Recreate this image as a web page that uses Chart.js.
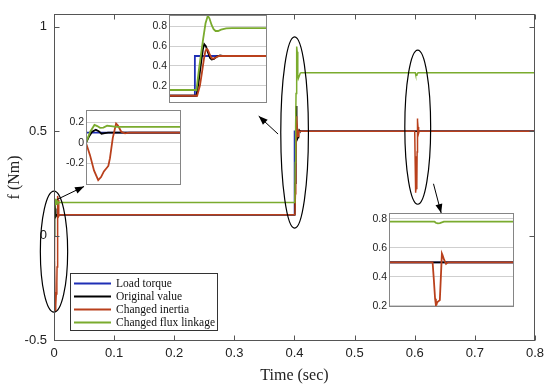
<!DOCTYPE html>
<html><head><meta charset="utf-8">
<script src="https://cdn.jsdelivr.net/npm/chart.js@4/dist/chart.umd.min.js"></script>
<style>
html,body{margin:0;padding:0;background:#fff;}
#wrap{position:relative;width:550px;height:385px;overflow:hidden;background:#fff;}
canvas{position:absolute;}
</style></head><body>
<div id="wrap">
<canvas id="main" width="550" height="385" style="left:0;top:0"></canvas>
<canvas id="in1"></canvas><canvas id="in2"></canvas><canvas id="in3"></canvas>
</div>
<script>
// ---------- data ----------
const seriesLabels = ['Load torque', 'Original value', 'Changed inertia', 'Changed flux linkage'];
const xTicks = [0, 0.1, 0.2, 0.3, 0.4, 0.5, 0.6, 0.7, 0.8];
const yTicks = [-0.5, 0, 0.5, 1];
const inset1Ticks = [-0.2, 0, 0.2];
const inset2Ticks = [0.2, 0.4, 0.6, 0.8];
const inset3Ticks = [0.2, 0.4, 0.6, 0.8];

// Load torque
const loadT = [0, 0.4, 0.4, 0.8];
const loadF = [0.1, 0.1, 0.5, 0.5];

// Original value
const origT = [0, 0.0006, 0.0013, 0.0021, 0.0027, 0.0033, 0.004, 0.0047,
  0.4005, 0.4012, 0.402, 0.4025, 0.4029, 0.4034, 0.404, 0.4047, 0.4052, 0.4059, 0.4068, 0.4078, 0.409, 0.8];
const origF = [0, 0.06, 0.11, 0.13, 0.115, 0.09, 0.095, 0.1,
  0.1, 0.25, 0.45, 0.57, 0.62, 0.6, 0.54, 0.48, 0.465, 0.47, 0.495, 0.505, 0.5, 0.5];

// Changed inertia
const inertiaT = [0, 0.00085, 0.0017, 0.0026, 0.0032, 0.0038, 0.00475, 0.0051, 0.0057, 0.0064, 0.0068, 0.0075, 0.0083, 0.0092,
  0.4007, 0.40155, 0.40218, 0.4028, 0.40327, 0.40364, 0.40404, 0.40467, 0.40529, 0.40591, 0.40669, 0.40747,
  0.6, 0.6006, 0.6012, 0.6016, 0.6019, 0.6022, 0.6035, 0.604, 0.6045, 0.6048, 0.6055, 0.6065, 0.6074, 0.8];
const inertiaF = [0, -0.12, -0.27, -0.365, -0.335, -0.28, -0.226, -0.15, 0.05, 0.19, 0.17, 0.11, 0.093, 0.1,
  0.1, 0.2, 0.33, 0.47, 0.55, 0.571, 0.56, 0.51, 0.475, 0.475, 0.49, 0.5,
  0.5, 0.38, 0.25, 0.205, 0.21, 0.225, 0.24, 0.4, 0.56, 0.55, 0.52, 0.49, 0.5, 0.5];

// Changed flux linkage
const fluxT = [0, 0.0009, 0.0018, 0.0024, 0.003, 0.0037, 0.0045, 0.0053, 0.0065,
  0.4005, 0.4012, 0.4019, 0.4026, 0.4033, 0.404, 0.4045, 0.4052, 0.4058, 0.4064, 0.4072, 0.4081, 0.4097, 0.4115,
  0.6009, 0.6015, 0.6025, 0.6035, 0.6048, 0.6055, 0.8];
const fluxF = [0, 0.11, 0.176, 0.165, 0.148, 0.15, 0.168, 0.165, 0.158,
  0.158, 0.35, 0.52, 0.68, 0.83, 0.905, 0.88, 0.81, 0.77, 0.752, 0.752, 0.765, 0.778, 0.78,
  0.78, 0.772, 0.768, 0.77, 0.776, 0.78, 0.78];

// ---------- styling ----------
const colors = ['#1f2fb5', '#000000', '#b9401c', '#7aab2e'];
const drawOrder = [3, 2, 1, 0];
const seriesT = [loadT, origT, inertiaT, fluxT];
const seriesF = [loadF, origF, inertiaF, fluxF];
const fmt = v => String(Math.round(v * 1000) / 1000);

function makeDatasets(w) {
  return seriesLabels.map((lab, i) => ({
    label: lab,
    data: seriesT[i].map((t, k) => ({x: t, y: seriesF[i][k]})),
    borderColor: colors[i], backgroundColor: colors[i],
    borderWidth: w, pointRadius: 0, tension: 0, fill: false, order: drawOrder[i]
  }));
}

function arrow(ctx, x1, y1, x2, y2) {
  ctx.beginPath(); ctx.moveTo(x1, y1); ctx.lineTo(x2, y2); ctx.stroke();
  const a = Math.atan2(y2 - y1, x2 - x1), L = 9, W = 3.5;
  ctx.beginPath();
  ctx.moveTo(x2, y2);
  ctx.lineTo(x2 - L * Math.cos(a) + W * Math.sin(a), y2 - L * Math.sin(a) - W * Math.cos(a));
  ctx.lineTo(x2 - L * Math.cos(a) - W * Math.sin(a), y2 - L * Math.sin(a) + W * Math.cos(a));
  ctx.closePath(); ctx.fill();
}

const mainDecor = {
  id: 'mainDecor',
  afterDraw(chart) {
    const {ctx, chartArea: a, scales: {x, y}} = chart;
    ctx.save();
    // ellipses
    const ells = [{x: 0, y: -0.077, rx: 0.0227, ry: 0.29}, {x: 0.4002, y: 0.4935, rx: 0.023, ry: 0.458}, {x: 0.605, y: 0.519, rx: 0.0215, ry: 0.369}];
    ctx.strokeStyle = '#000'; ctx.lineWidth = 1.2;
    ells.forEach(e => {
      const cx = x.getPixelForValue(e.x), cy = y.getPixelForValue(e.y);
      const rx = Math.abs(x.getPixelForValue(e.x + e.rx) - cx), ry = Math.abs(y.getPixelForValue(e.y + e.ry) - cy);
      ctx.beginPath(); ctx.ellipse(cx, cy, rx, ry, 0, 0, Math.PI * 2); ctx.stroke();
    });
    // arrows
    const arrs = [[0.0053, 0.173, 0.05, 0.235], [0.3727, 0.486, 0.3405, 0.572], [0.6312, 0.248, 0.644, 0.1077]];
    ctx.fillStyle = '#000'; ctx.lineWidth = 1;
    arrs.forEach(r => arrow(ctx, x.getPixelForValue(r[0]), y.getPixelForValue(r[1]), x.getPixelForValue(r[2]), y.getPixelForValue(r[3])));
    // frame + inward ticks
    const L = Math.floor(a.left) + 0.5, R = Math.floor(a.right) + 0.5, T = Math.floor(a.top) + 0.5, B = Math.floor(a.bottom) + 0.5;
    ctx.strokeStyle = '#555'; ctx.lineWidth = 1;
    ctx.strokeRect(L, T, R - L, B - T);
    ctx.beginPath();
    xTicks.forEach(v => { const p = Math.round(x.getPixelForValue(v)) + 0.5; ctx.moveTo(p, B); ctx.lineTo(p, B - 5); ctx.moveTo(p, T); ctx.lineTo(p, T + 5); });
    yTicks.forEach(v => { const p = Math.round(y.getPixelForValue(v)) + 0.5; ctx.moveTo(L, p); ctx.lineTo(L + 5, p); ctx.moveTo(R, p); ctx.lineTo(R - 5, p); });
    ctx.stroke();
    // legend
    const lx = 70.5, ly = 273.5, lw = 147, lh = 57;
    ctx.fillStyle = '#fff'; ctx.fillRect(lx, ly, lw, lh);
    ctx.strokeStyle = '#333'; ctx.strokeRect(lx, ly, lw, lh);
    ctx.font = '11.5px "Liberation Serif", "Times New Roman", serif';
    ctx.textBaseline = 'middle'; ctx.textAlign = 'left';
    chart.data.datasets.forEach((d, i) => {
      const yy = 283.5 + 13 * i;
      ctx.strokeStyle = d.borderColor; ctx.lineWidth = 2;
      ctx.beginPath(); ctx.moveTo(74, yy); ctx.lineTo(111, yy); ctx.stroke();
      ctx.fillStyle = '#111'; ctx.fillText(d.label, 116, yy + 0.5);
    });
    ctx.restore();
  }
};

new Chart(document.getElementById('main'), {
  type: 'line',
  data: {datasets: makeDatasets(1.5)},
  options: {
    responsive: false, animation: false, devicePixelRatio: 1,
    layout: {padding: {top: 7, right: 13, left: 0, bottom: 0}},
    plugins: {legend: {display: false}, tooltip: {enabled: false}},
    scales: {
      x: {
        type: 'linear', min: 0, max: 0.8,
        afterBuildTicks: s => { s.ticks = xTicks.map(v => ({value: v})); },
        afterFit: s => { s.height = 45; },
        grid: {display: false, drawTicks: false}, border: {display: false},
        ticks: {padding: 6, color: '#222', maxRotation: 0, autoSkip: false, callback: fmt,
          font: {family: '"Liberation Sans", Arial, sans-serif', size: 13}},
        title: {display: true, text: 'Time (sec)', color: '#222',
          font: {family: '"Liberation Serif", "Times New Roman", serif', size: 16}, padding: {top: 2, bottom: 0}}
      },
      y: {
        type: 'linear', min: -0.5, max: 1.057,
        afterBuildTicks: s => { s.ticks = yTicks.map(v => ({value: v})); },
        afterFit: s => { s.width = 54; },
        grid: {display: false, drawTicks: false}, border: {display: false},
        ticks: {padding: 7, color: '#222', autoSkip: false, callback: fmt,
          font: {family: '"Liberation Sans", Arial, sans-serif', size: 13}},
        title: {display: true, text: 'f (Nm)', color: '#222',
          font: {family: '"Liberation Serif", "Times New Roman", serif', size: 16}, padding: {top: 5, bottom: 0}}
      }
    }
  },
  plugins: [mainDecor]
});

const insetBox = {
  id: 'insetBox',
  beforeDraw(chart) {
    const {ctx, chartArea: a} = chart;
    ctx.save(); ctx.fillStyle = '#fff'; ctx.fillRect(a.left, a.top, a.right - a.left, a.bottom - a.top); ctx.restore();
  },
  afterDraw(chart) {
    const {ctx, chartArea: a} = chart;
    ctx.save(); ctx.strokeStyle = '#858585'; ctx.lineWidth = 1;
    ctx.strokeRect(Math.floor(a.left) + 0.5, Math.floor(a.top) + 0.5, Math.floor(a.right) - Math.floor(a.left), Math.floor(a.bottom) - Math.floor(a.top));
    ctx.restore();
  }
};

function makeInset(id, box, xr, yr, ticks, labelW) {
  const padT = 6, padB = 6, padR = 3;
  const cv = document.getElementById(id);
  cv.width = box.R - box.L + labelW + padR;
  cv.height = box.B - box.T + padT + padB;
  cv.style.left = (box.L - labelW) + 'px';
  cv.style.top = (box.T - padT) + 'px';
  new Chart(cv, {
    type: 'line',
    data: {datasets: makeDatasets(1.8)},
    options: {
      responsive: false, animation: false, devicePixelRatio: 1,
      layout: {padding: {top: padT, bottom: padB, right: padR, left: 0}},
      plugins: {legend: {display: false}, tooltip: {enabled: false}},
      scales: {
        x: {type: 'linear', display: false, min: xr[0], max: xr[1]},
        y: {
          type: 'linear', min: yr[0], max: yr[1],
          afterBuildTicks: s => { s.ticks = ticks.map(v => ({value: v})); },
          afterFit: s => { s.width = labelW; },
          grid: {color: '#cfcfcf', drawTicks: false}, border: {display: false},
          ticks: {padding: 2, color: '#222', autoSkip: false, callback: fmt,
            font: {family: '"Liberation Sans", Arial, sans-serif', size: 10.5}}
        }
      }
    },
    plugins: [insetBox]
  });
}

makeInset('in1', {L: 86, T: 108, R: 180, B: 187}, [0, 0.02], [-0.41, 0.32], inset1Ticks, 26);
makeInset('in2', {L: 169, T: 13, R: 266, B: 105}, [0.392, 0.422], [0.03, 0.91], inset2Ticks, 26);
makeInset('in3', {L: 389, T: 211, R: 513, B: 309}, [0.5789, 0.6389], [0.195, 0.837], inset3Ticks, 26);
</script>
</body></html>
